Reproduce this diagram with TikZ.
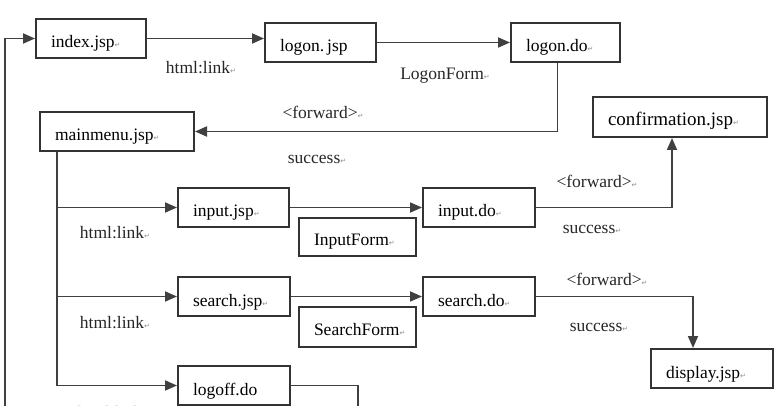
\documentclass[tikz,border=0pt]{standalone}
\usepackage{fontspec}
\setmainfont{Liberation Serif}
\newfontfamily\retfont{DejaVu Sans}
\usetikzlibrary{arrows.meta}
\newcommand{\ret}{{\retfont\fontsize{7}{7}\selectfont\color{black!45}↵}}

\begin{document}
\begin{tikzpicture}[x=1pt,y=-1pt,font=\fontsize{17.5}{17.5}\selectfont]
        \tikzstyle{page}=[rectangle,draw=black!80,line width=2pt,anchor=north west,align=left,inner xsep=15pt,inner ysep=0pt,text height=29pt,text depth=10pt]
        \tikzstyle{flow}=[draw=black!75,line width=1.8pt,-{Triangle[length=12pt,width=10pt]}]
        \tikzstyle{line}=[draw=black!75,line width=1.8pt]
        \tikzstyle{tag}=[inner sep=0pt,text=black!85]
        \useasboundingbox (0,0) rectangle (776,406);
        \clip (0,0) rectangle (776,406);
       \begin{scope}
         % pages and actions
         \node [page,text width=80pt] (index) at (35,18) {index.jsp\ret};
         \node [page,text width=81pt] (logon) at (264,22) {logon.\,jsp};
         \node [page,text width=79pt] (logondo) at (510,22) {logon.do\ret};
         \node [page,text width=124pt] (mainmenu) at (39,111) {mainmenu.jsp\ret};
         \node [page,text width=144pt,text depth=11pt,font=\fontsize{19}{19}\selectfont] (confirm) at (592,96) {confirmation.jsp\ret};
         \node [page,text width=81pt] (inputjsp) at (177,187) {input.jsp\ret};
         \node [page,text width=82pt] (inputdo) at (422,187) {input.do\ret};
         \node [page,text width=87pt,text height=27pt,text depth=11pt] (inputform) at (298,217) {InputForm\ret};
         \node [page,text width=82pt] (searchjsp) at (177,276) {search.jsp\ret};
         \node [page,text width=82pt] (searchdo) at (422,276) {search.do\ret};
         \node [page,text width=87pt,text height=28pt,text depth=12pt] (searchform) at (298,306) {SearchForm\ret};
         \node [page,text width=82pt] (logoff) at (177,365) {logoff.do};
         \node [page,text width=92pt] (display) at (650,348) {display.jsp\ret};

         % labels
         \node [tag] (lbllink) at (201,68) {html:link\ret};
         \node [tag] (lbllogonform) at (445,76) {LogonForm\ret};
         \node [tag] (lblfwdmenu) at (323,112) {<forward>\ret};
         \node [tag] (lblsuccmenu) at (317,159) {success\ret};
         \node [tag] (lblfwdconfirm) at (597,181) {<forward>\ret};
         \node [tag] (lblsuccconfirm) at (592,229) {success\ret};
         \node [tag] (lblfwddisplay) at (607,279) {<forward>\ret};
         \node [tag] (lblsuccdisplay) at (599,327) {success\ret};
         \node [tag] (lbllinkinput) at (115,233) {html:link\ret};
         \node [tag] (lbllinksearch) at (115,323) {html:link\ret};
         \node [tag] (lbllinklogoff) at (113,413) {html:link\ret};

         \coordinate (loopend) at (5,430);
         \coordinate (trunk) at ([xshift=18pt]mainmenu.south west);
         \coordinate (logoffend) at (358,430);

         \path[flow] (loopend) |- (index.west);
         \path[flow] (index.east) -- (index.east -| logon.west);
         \path[flow] (logon) -- (logondo);
         \path[flow] ([xshift=-8pt]logondo.south) |- (mainmenu.east);
         \path[flow] (trunk) |- (inputjsp.west);
         \path[flow] (trunk) |- (searchjsp.west);
         \path[flow] (trunk) |- (logoff.west);
         \path[flow] (inputjsp) -- (inputdo);
         \path[flow] (searchjsp) -- (searchdo);
         \path[flow] (inputdo.east) -| ([xshift=-8pt]confirm.south);
         \path[flow] (searchdo.east) -| ([xshift=-19pt]display.north);
         \path[line] (logoff.east) -| (logoffend);
        \end{scope}
      \end{tikzpicture}
\end{document}
